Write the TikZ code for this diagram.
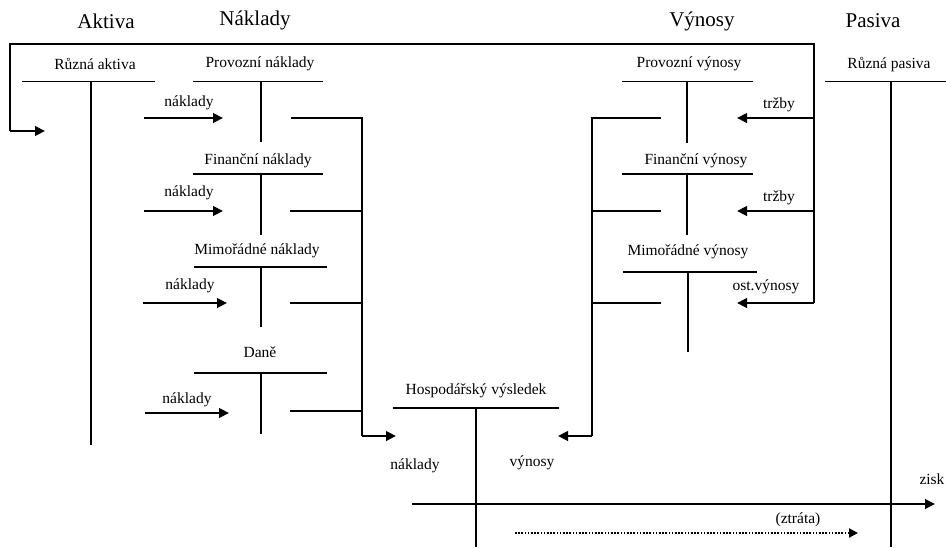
\documentclass[tikz,border=0pt]{standalone}
\usepackage{fontspec}
\setmainfont{Liberation Serif}
\usetikzlibrary{arrows.meta}
\begin{document}
\begin{tikzpicture}[x=1pt,y=-1pt,
  title/.style={font=\fontsize{21}{25}\selectfont, inner sep=0pt},
  lbl/.style={font=\fontsize{15.5}{18}\selectfont, inner sep=0pt},
  thin/.style={line width=1.1pt},
  flow/.style={line width=2.5pt,-{Triangle[length=10pt,width=9.5pt]}},
  dotflow/.style={line width=2pt,dash pattern=on 1.6pt off 1.6pt,-{Triangle[length=9pt,width=9pt]}}]
\useasboundingbox (0,0) rectangle (946,547);
% titles
\node[title] (tA) at (106,21) {Aktiva};
\node[title] (tN) at (255,20) {Náklady};
\node[title] (tV) at (702,21) {Výnosy};
\node[title] (tP) at (873,21) {Pasiva};
% account headings
\node[lbl] (ra) at (95,64) {Různá aktiva};
\node[lbl] (pn) at (260,64) {Provozní náklady};
\node[lbl] (fn) at (258,161) {Finanční náklady};
\node[lbl] (mn) at (257,251) {Mimořádné náklady};
\node[lbl] (dn) at (260,352) {Daně};
\node[lbl] (pv) at (689,64) {Provozní výnosy};
\node[lbl] (fv) at (696,161) {Finanční výnosy};
\node[lbl] (mv) at (688,252) {Mimořádné výnosy};
\node[lbl] (rp) at (889,65) {Různá pasiva};
\node[lbl] (hv) at (476,391) {Hospodářský výsledek};
% flow labels
\node[lbl] (n1) at (189,103) {náklady};
\node[lbl] (n2) at (189,193) {náklady};
\node[lbl] (n3) at (190,286) {náklady};
\node[lbl] (n4) at (187,400) {náklady};
\node[lbl] (t1) at (779,105) {tržby};
\node[lbl] (t2) at (779,198) {tržby};
\node[lbl] (t3) at (766,287) {ost.výnosy};
\node[lbl] (nb) at (415,466) {náklady};
\node[lbl] (vb) at (532,463) {výnosy};
\node[lbl] (zi) at (932,479) {zisk};
\node[lbl] (zt) at (798,520) {(ztráta)};
% T accounts
\draw[thin] (22,81.5) -- (155,81.5) (91,81.5) -- (91,445);
\draw[thin] (193,81.5) -- (323,81.5) (261,81.5) -- (261,142);
\draw[thin] (193,174) -- (323,174) (261,174) -- (261,235);
\draw[thin] (194,267) -- (327,267) (261,267) -- (261,327);
\draw[thin] (194,373) -- (327,373) (261,373) -- (261,434);
\draw[thin] (622,81.5) -- (753,81.5) (687,81.5) -- (687,143);
\draw[thin] (622,174) -- (753,174) (687,174) -- (687,235);
\draw[thin] (623,272) -- (757,272) (688,272) -- (688,352);
\draw[thin] (825,81.5) -- (946,81.5) (891,81.5) -- (891,547);
\draw[thin] (393,408) -- (559,408) (476,408) -- (476,547);
% coordinates
\coordinate (cA) at (45,131);
\coordinate (bL) at (362,436);
\coordinate (bR) at (592,436);
\coordinate (hL) at (396,436);
\coordinate (hR) at (558,436);
% cost brackets
\draw[thin] (291,118) -- (362,118) -- (bL);
\draw[thin] (290,211) -- (362,211);
\draw[thin] (290,303) -- (362,303);
\draw[thin] (290,411) -- (362,411);
\draw[flow] (bL) -- (hL);
% revenue brackets
\draw[thin] (661,118) -- (592,118) -- (bR);
\draw[thin] (661,211) -- (592,211);
\draw[thin] (661,303) -- (592,303);
\draw[flow] (bR) -- (hR);
% cost arrows
\draw[flow] (144,118) -- (223,118);
\draw[flow] (144,211) -- (223,211);
\draw[flow] (143,303) -- (227,303);
\draw[flow] (145,413) -- (229,413);
% revenue arrows and loop
\draw[thin] (814,303) -- (814,44) -- (10,44) -- (10,131);
\draw[flow] (10,131) -- (cA);
\draw[flow] (814,118) -- (737,118);
\draw[flow] (814,211) -- (737,211);
\draw[flow] (814,303) -- (737,303);
% result axis
\draw[flow] (412,504) -- (935,504);
\draw[dotflow] (515,533) -- (858,533);
\end{tikzpicture}
\end{document}
